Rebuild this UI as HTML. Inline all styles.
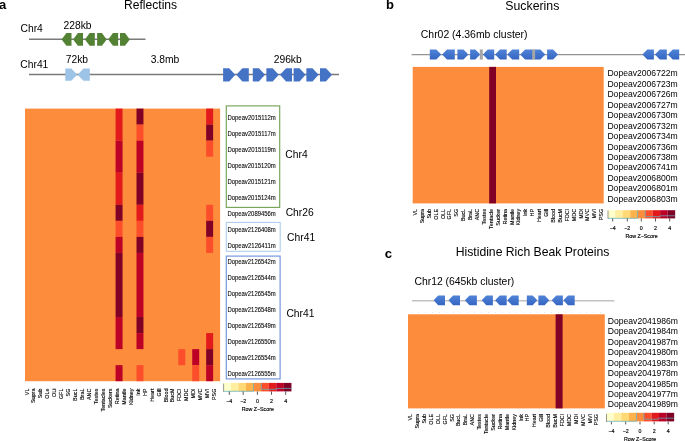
<!DOCTYPE html>
<html><head><meta charset="utf-8"><style>html,body{margin:0;padding:0;background:#fff;width:685px;height:441px;overflow:hidden}svg{display:block;will-change:transform}</style></head><body>
<svg width="685" height="441" viewBox="0 0 685 441" font-family="'Liberation Sans', sans-serif">
<defs><linearGradient id="gb" x1="0" y1="0" x2="0" y2="1"><stop offset="0" stop-color="#5184d8"/><stop offset="1" stop-color="#3565c2"/></linearGradient></defs>
<rect width="685" height="441" fill="#fff"/>
<text x="-0.9" y="8.9" font-size="13" text-anchor="start" font-weight="bold" fill="#000" >a</text>
<text x="124" y="9.3" font-size="12.1" text-anchor="start" fill="#000" >Reflectins</text>
<text x="20.5" y="32" font-size="10.3" text-anchor="start" fill="#000" >Chr4</text>
<text x="63.5" y="28.6" font-size="10.3" text-anchor="start" fill="#000" >228kb</text>
<line x1="29" y1="39.3" x2="145.5" y2="39.3" stroke="#7a7a7a" stroke-width="1.5"/>
<polygon points="61.6,39.4 66.4,33 71.5,33 71.5,45.8 66.4,45.8" fill="#548235" />
<polygon points="73.1,39.4 77.9,33 83,33 83,45.8 77.9,45.8" fill="#548235" />
<polygon points="84.9,39.4 89.7,33 94.8,33 94.8,45.8 89.7,45.8" fill="#548235" />
<polygon points="97.1,33 101.9,33 106.7,39.4 101.9,45.8 97.1,45.8" fill="#548235" />
<polygon points="108.2,39.4 113,33 118.1,33 118.1,45.8 113,45.8" fill="#548235" />
<polygon points="120,33 125,33 129.8,39.4 125,45.8 120,45.8" fill="#548235" />
<text x="20.3" y="67.6" font-size="10.3" text-anchor="start" fill="#000" >Chr41</text>
<text x="65.7" y="63" font-size="10.3" text-anchor="start" fill="#000" >72kb</text>
<text x="150.7" y="63" font-size="10.3" text-anchor="start" fill="#000" >3.8mb</text>
<text x="273.7" y="62.6" font-size="10.3" text-anchor="start" fill="#000" >296kb</text>
<line x1="29" y1="74.6" x2="339" y2="74.6" stroke="#7a7a7a" stroke-width="1.5"/>
<polygon points="65.3,68.6 71.3,68.6 77.2,74.7 71.3,80.8 65.3,80.8" fill="#9DC3E6" />
<polygon points="77.6,74.7 83.5,68.6 89.8,68.6 89.8,80.8 83.5,80.8" fill="#9DC3E6" />
<polygon points="223.1,68.2 229.2,68.2 235.3,74.8 229.2,81.4 223.1,81.4" fill="#4472C4" />
<polygon points="236.3,74.8 242.4,68.2 248.8,68.2 248.8,81.4 242.4,81.4" fill="#4472C4" />
<polygon points="252.8,68.2 258.9,68.2 265,74.8 258.9,81.4 252.8,81.4" fill="#4472C4" />
<polygon points="266.4,68.2 272.7,68.2 278.8,74.8 272.7,81.4 266.4,81.4" fill="#4472C4" />
<polygon points="280,74.8 286.1,68.2 292,68.2 292,81.4 286.1,81.4" fill="#4472C4" />
<polygon points="293.6,68.2 299.5,68.2 305.6,74.8 299.5,81.4 293.6,81.4" fill="#4472C4" />
<polygon points="306.4,68.2 312.5,68.2 318.6,74.8 312.5,81.4 306.4,81.4" fill="#4472C4" />
<polygon points="320,68.2 325.9,68.2 332,74.8 325.9,81.4 320,81.4" fill="#4472C4" />
<rect x="25" y="108.6" width="195.1" height="272.6" fill="#FD8D3C"/>
<rect x="115.58" y="108.6" width="6.97" height="32.07" fill="#E31A1C"/>
<rect x="115.58" y="140.67" width="6.97" height="32.07" fill="#BD0026"/>
<rect x="115.58" y="172.74" width="6.97" height="32.07" fill="#E31A1C"/>
<rect x="115.58" y="204.81" width="6.97" height="16.04" fill="#800026"/>
<rect x="115.58" y="220.85" width="6.97" height="16.04" fill="#FC4E2A"/>
<rect x="115.58" y="236.88" width="6.97" height="16.04" fill="#BD0026"/>
<rect x="115.58" y="252.92" width="6.97" height="64.14" fill="#800026"/>
<rect x="115.58" y="317.06" width="6.97" height="32.07" fill="#BD0026"/>
<rect x="115.58" y="365.16" width="6.97" height="16.04" fill="#BD0026"/>
<rect x="136.49" y="108.6" width="6.97" height="16.04" fill="#800026"/>
<rect x="136.49" y="124.64" width="6.97" height="16.04" fill="#FC4E2A"/>
<rect x="136.49" y="140.67" width="6.97" height="32.07" fill="#BD0026"/>
<rect x="136.49" y="172.74" width="6.97" height="32.07" fill="#800026"/>
<rect x="136.49" y="204.81" width="6.97" height="16.04" fill="#E31A1C"/>
<rect x="136.49" y="220.85" width="6.97" height="16.04" fill="#FC4E2A"/>
<rect x="136.49" y="236.88" width="6.97" height="16.04" fill="#800026"/>
<rect x="136.49" y="252.92" width="6.97" height="64.14" fill="#BD0026"/>
<rect x="136.49" y="317.06" width="6.97" height="16.04" fill="#800026"/>
<rect x="136.49" y="333.09" width="6.97" height="16.04" fill="#BD0026"/>
<rect x="136.49" y="365.16" width="6.97" height="16.04" fill="#FC4E2A"/>
<rect x="178.29" y="349.13" width="6.97" height="16.04" fill="#FC4E2A"/>
<rect x="192.23" y="349.13" width="6.97" height="16.04" fill="#BD0026"/>
<rect x="192.23" y="365.16" width="6.97" height="16.04" fill="#FC4E2A"/>
<rect x="206.16" y="108.6" width="6.97" height="16.04" fill="#E31A1C"/>
<rect x="206.16" y="124.64" width="6.97" height="16.04" fill="#800026"/>
<rect x="206.16" y="140.67" width="6.97" height="16.04" fill="#FC4E2A"/>
<rect x="206.16" y="204.81" width="6.97" height="16.04" fill="#FC4E2A"/>
<rect x="206.16" y="220.85" width="6.97" height="16.04" fill="#800026"/>
<rect x="206.16" y="236.88" width="6.97" height="16.04" fill="#FC4E2A"/>
<rect x="206.16" y="333.09" width="6.97" height="16.04" fill="#E31A1C"/>
<rect x="206.16" y="349.13" width="6.97" height="16.04" fill="#800026"/>
<rect x="206.16" y="365.16" width="6.97" height="16.04" fill="#BD0026"/>
<text transform="translate(28.5,388.6) rotate(-90)" font-size="5.9" text-anchor="end" fill="#000" stroke="#000" stroke-width="0.12" textLength="6.61" lengthAdjust="spacingAndGlyphs">VL</text>
<text transform="translate(35.45,388.6) rotate(-90)" font-size="5.9" text-anchor="end" fill="#000" stroke="#000" stroke-width="0.12" textLength="14.41" lengthAdjust="spacingAndGlyphs">Supra</text>
<text transform="translate(42.4,388.6) rotate(-90)" font-size="5.9" text-anchor="end" fill="#000" stroke="#000" stroke-width="0.12" textLength="9.61" lengthAdjust="spacingAndGlyphs">Sub</text>
<text transform="translate(49.35,388.6) rotate(-90)" font-size="5.9" text-anchor="end" fill="#000" stroke="#000" stroke-width="0.12" textLength="10.21" lengthAdjust="spacingAndGlyphs">OLe</text>
<text transform="translate(56.3,388.6) rotate(-90)" font-size="5.9" text-anchor="end" fill="#000" stroke="#000" stroke-width="0.12" textLength="8.4" lengthAdjust="spacingAndGlyphs">OLi</text>
<text transform="translate(63.25,388.6) rotate(-90)" font-size="5.9" text-anchor="end" fill="#000" stroke="#000" stroke-width="0.12" textLength="10.5" lengthAdjust="spacingAndGlyphs">GFL</text>
<text transform="translate(70.2,388.6) rotate(-90)" font-size="5.9" text-anchor="end" fill="#000" stroke="#000" stroke-width="0.12" textLength="7.8" lengthAdjust="spacingAndGlyphs">SG</text>
<text transform="translate(77.15,388.6) rotate(-90)" font-size="5.9" text-anchor="end" fill="#000" stroke="#000" stroke-width="0.12" textLength="12.31" lengthAdjust="spacingAndGlyphs">BucL</text>
<text transform="translate(84.1,388.6) rotate(-90)" font-size="5.9" text-anchor="end" fill="#000" stroke="#000" stroke-width="0.12" textLength="11.41" lengthAdjust="spacingAndGlyphs">BraL</text>
<text transform="translate(91.05,388.6) rotate(-90)" font-size="5.9" text-anchor="end" fill="#000" stroke="#000" stroke-width="0.12" textLength="11.4" lengthAdjust="spacingAndGlyphs">ANC</text>
<text transform="translate(98,388.6) rotate(-90)" font-size="5.9" text-anchor="end" fill="#000" stroke="#000" stroke-width="0.12" textLength="15.61" lengthAdjust="spacingAndGlyphs">Testes</text>
<text transform="translate(104.95,388.6) rotate(-90)" font-size="5.9" text-anchor="end" fill="#000" stroke="#000" stroke-width="0.12" textLength="22.81" lengthAdjust="spacingAndGlyphs">Tentacles</text>
<text transform="translate(111.9,388.6) rotate(-90)" font-size="5.9" text-anchor="end" fill="#000" stroke="#000" stroke-width="0.12" textLength="19.51" lengthAdjust="spacingAndGlyphs">Suckers</text>
<text transform="translate(118.85,388.6) rotate(-90)" font-size="5.9" text-anchor="end" fill="#000" stroke="#000" stroke-width="0.12" textLength="15.61" lengthAdjust="spacingAndGlyphs">Retina</text>
<text transform="translate(125.8,388.6) rotate(-90)" font-size="5.9" text-anchor="end" fill="#000" stroke="#000" stroke-width="0.12" textLength="16.21" lengthAdjust="spacingAndGlyphs">Mantle</text>
<text transform="translate(132.75,388.6) rotate(-90)" font-size="5.9" text-anchor="end" fill="#000" stroke="#000" stroke-width="0.12" textLength="16.51" lengthAdjust="spacingAndGlyphs">Kidney</text>
<text transform="translate(139.7,388.6) rotate(-90)" font-size="5.9" text-anchor="end" fill="#000" stroke="#000" stroke-width="0.12" textLength="7.2" lengthAdjust="spacingAndGlyphs">Ink</text>
<text transform="translate(146.65,388.6) rotate(-90)" font-size="5.9" text-anchor="end" fill="#000" stroke="#000" stroke-width="0.12" textLength="7.5" lengthAdjust="spacingAndGlyphs">HP</text>
<text transform="translate(153.6,388.6) rotate(-90)" font-size="5.9" text-anchor="end" fill="#000" stroke="#000" stroke-width="0.12" textLength="13.2" lengthAdjust="spacingAndGlyphs">Heart</text>
<text transform="translate(160.55,388.6) rotate(-90)" font-size="5.9" text-anchor="end" fill="#000" stroke="#000" stroke-width="0.12" textLength="7.8" lengthAdjust="spacingAndGlyphs">Gill</text>
<text transform="translate(167.5,388.6) rotate(-90)" font-size="5.9" text-anchor="end" fill="#000" stroke="#000" stroke-width="0.12" textLength="13.81" lengthAdjust="spacingAndGlyphs">Blood</text>
<text transform="translate(174.45,388.6) rotate(-90)" font-size="5.9" text-anchor="end" fill="#000" stroke="#000" stroke-width="0.12" textLength="13.8" lengthAdjust="spacingAndGlyphs">BucM</text>
<text transform="translate(181.4,388.6) rotate(-90)" font-size="5.9" text-anchor="end" fill="#000" stroke="#000" stroke-width="0.12" textLength="12.6" lengthAdjust="spacingAndGlyphs">FDCI</text>
<text transform="translate(188.35,388.6) rotate(-90)" font-size="5.9" text-anchor="end" fill="#000" stroke="#000" stroke-width="0.12" textLength="12.3" lengthAdjust="spacingAndGlyphs">MDC</text>
<text transform="translate(195.3,388.6) rotate(-90)" font-size="5.9" text-anchor="end" fill="#000" stroke="#000" stroke-width="0.12" textLength="9.9" lengthAdjust="spacingAndGlyphs">MDI</text>
<text transform="translate(202.25,388.6) rotate(-90)" font-size="5.9" text-anchor="end" fill="#000" stroke="#000" stroke-width="0.12" textLength="12" lengthAdjust="spacingAndGlyphs">MVC</text>
<text transform="translate(209.2,388.6) rotate(-90)" font-size="5.9" text-anchor="end" fill="#000" stroke="#000" stroke-width="0.12" textLength="9.6" lengthAdjust="spacingAndGlyphs">MVI</text>
<text transform="translate(216.15,388.6) rotate(-90)" font-size="5.9" text-anchor="end" fill="#000" stroke="#000" stroke-width="0.12" textLength="11.4" lengthAdjust="spacingAndGlyphs">PSG</text>
<text x="227.4" y="119.52" font-size="6.4" text-anchor="start" fill="#000" stroke="#000" stroke-width="0.08" textLength="48.4" lengthAdjust="spacingAndGlyphs">Dopeav2015112m</text>
<text x="227.4" y="135.55" font-size="6.4" text-anchor="start" fill="#000" stroke="#000" stroke-width="0.08" textLength="48.4" lengthAdjust="spacingAndGlyphs">Dopeav2015117m</text>
<text x="227.4" y="151.59" font-size="6.4" text-anchor="start" fill="#000" stroke="#000" stroke-width="0.08" textLength="48.4" lengthAdjust="spacingAndGlyphs">Dopeav2015119m</text>
<text x="227.4" y="167.62" font-size="6.4" text-anchor="start" fill="#000" stroke="#000" stroke-width="0.08" textLength="48.4" lengthAdjust="spacingAndGlyphs">Dopeav2015120m</text>
<text x="227.4" y="183.66" font-size="6.4" text-anchor="start" fill="#000" stroke="#000" stroke-width="0.08" textLength="48.4" lengthAdjust="spacingAndGlyphs">Dopeav2015121m</text>
<text x="227.4" y="199.69" font-size="6.4" text-anchor="start" fill="#000" stroke="#000" stroke-width="0.08" textLength="48.4" lengthAdjust="spacingAndGlyphs">Dopeav2015124m</text>
<text x="227.4" y="215.73" font-size="6.4" text-anchor="start" fill="#000" stroke="#000" stroke-width="0.08" textLength="48.4" lengthAdjust="spacingAndGlyphs">Dopeav2089456m</text>
<text x="227.4" y="231.76" font-size="6.4" text-anchor="start" fill="#000" stroke="#000" stroke-width="0.08" textLength="48.4" lengthAdjust="spacingAndGlyphs">Dopeav2126408m</text>
<text x="227.4" y="247.8" font-size="6.4" text-anchor="start" fill="#000" stroke="#000" stroke-width="0.08" textLength="48.4" lengthAdjust="spacingAndGlyphs">Dopeav2126411m</text>
<text x="227.4" y="263.84" font-size="6.4" text-anchor="start" fill="#000" stroke="#000" stroke-width="0.08" textLength="48.4" lengthAdjust="spacingAndGlyphs">Dopeav2126542m</text>
<text x="227.4" y="279.87" font-size="6.4" text-anchor="start" fill="#000" stroke="#000" stroke-width="0.08" textLength="48.4" lengthAdjust="spacingAndGlyphs">Dopeav2126544m</text>
<text x="227.4" y="295.91" font-size="6.4" text-anchor="start" fill="#000" stroke="#000" stroke-width="0.08" textLength="48.4" lengthAdjust="spacingAndGlyphs">Dopeav2126545m</text>
<text x="227.4" y="311.94" font-size="6.4" text-anchor="start" fill="#000" stroke="#000" stroke-width="0.08" textLength="48.4" lengthAdjust="spacingAndGlyphs">Dopeav2126548m</text>
<text x="227.4" y="327.98" font-size="6.4" text-anchor="start" fill="#000" stroke="#000" stroke-width="0.08" textLength="48.4" lengthAdjust="spacingAndGlyphs">Dopeav2126549m</text>
<text x="227.4" y="344.01" font-size="6.4" text-anchor="start" fill="#000" stroke="#000" stroke-width="0.08" textLength="48.4" lengthAdjust="spacingAndGlyphs">Dopeav2126550m</text>
<text x="227.4" y="360.05" font-size="6.4" text-anchor="start" fill="#000" stroke="#000" stroke-width="0.08" textLength="48.4" lengthAdjust="spacingAndGlyphs">Dopeav2126554m</text>
<text x="227.4" y="376.08" font-size="6.4" text-anchor="start" fill="#000" stroke="#000" stroke-width="0.08" textLength="48.4" lengthAdjust="spacingAndGlyphs">Dopeav2126555m</text>
<rect x="226.3" y="105.9" width="53.4" height="101.5" fill="none" stroke="#75a45a" stroke-width="1.15"/>
<rect x="226.3" y="222.4" width="53.9" height="28.9" fill="none" stroke="#b0cdee" stroke-width="1.1"/>
<rect x="226.3" y="256.1" width="53.8" height="122.8" fill="none" stroke="#7797dc" stroke-width="1.2"/>
<text x="285.3" y="158.3" font-size="10.3" text-anchor="start" fill="#000" >Chr4</text>
<text x="285.7" y="215.9" font-size="10.3" text-anchor="start" fill="#000" >Chr26</text>
<text x="287.1" y="240.8" font-size="10.3" text-anchor="start" fill="#000" >Chr41</text>
<text x="286.4" y="316.8" font-size="10.3" text-anchor="start" fill="#000" >Chr41</text>
<rect x="223.3" y="382.9" width="7.62" height="8.5" fill="#FFFFCC"/>
<rect x="230.87" y="382.9" width="7.62" height="8.5" fill="#FFEDA0"/>
<rect x="238.43" y="382.9" width="7.62" height="8.5" fill="#FED976"/>
<rect x="246" y="382.9" width="7.62" height="8.5" fill="#FEB24C"/>
<rect x="253.57" y="382.9" width="7.62" height="8.5" fill="#FD8D3C"/>
<rect x="261.13" y="382.9" width="7.62" height="8.5" fill="#FC4E2A"/>
<rect x="268.7" y="382.9" width="7.62" height="8.5" fill="#E31A1C"/>
<rect x="276.27" y="382.9" width="7.62" height="8.5" fill="#BD0026"/>
<rect x="283.83" y="382.9" width="7.62" height="8.5" fill="#800026"/>
<polyline points="223.3,391.3 253.5,391.3 253.5,383" fill="none" stroke="#62adbb" stroke-width="0.75"/>
<polyline points="261.3,383 261.3,389.3 276.4,389.3 276.4,388.4 291.4,388.4" fill="none" stroke="#62adbb" stroke-width="0.75"/>
<text x="386" y="8.7" font-size="13" text-anchor="start" font-weight="bold" fill="#000" >b</text>
<text x="505.3" y="9.8" font-size="12.3" text-anchor="start" fill="#000" >Suckerins</text>
<text x="420.8" y="37.8" font-size="10.45" text-anchor="start" fill="#000" >Chr02 (4.36mb cluster)</text>
<line x1="411.6" y1="54.5" x2="685" y2="54.5" stroke="#939393" stroke-width="1.25"/>
<polygon points="429.8,49.4 436.3,49.4 441.2,54.5 436.3,59.6 429.8,59.6" fill="url(#gb)" />
<polygon points="442.1,54.5 447,49.4 454.8,49.4 454.8,59.6 447,59.6" fill="url(#gb)" />
<polygon points="457.4,49.4 463.5,49.4 468.4,54.5 463.5,59.6 457.4,59.6" fill="url(#gb)" />
<polygon points="470.1,49.4 475.3,49.4 480.2,54.5 475.3,59.6 470.1,59.6" fill="url(#gb)" />
<polygon points="482.8,54.5 487.7,49.4 494.2,49.4 494.2,59.6 487.7,59.6" fill="url(#gb)" />
<polygon points="495.1,54.5 500,49.4 506.7,49.4 506.7,59.6 500,59.6" fill="url(#gb)" />
<polygon points="507.3,54.5 512.2,49.4 519.2,49.4 519.2,59.6 512.2,59.6" fill="url(#gb)" />
<polygon points="520.2,54.5 525.1,49.4 533,49.4 533,59.6 525.1,59.6" fill="url(#gb)" />
<polygon points="534.5,49.4 540.4,49.4 545.3,54.5 540.4,59.6 534.5,59.6" fill="url(#gb)" />
<polygon points="547.1,49.4 553.1,49.4 558,54.5 553.1,59.6 547.1,59.6" fill="url(#gb)" />
<polygon points="642.4,54.5 647.3,49.4 653.9,49.4 653.9,59.6 647.3,59.6" fill="url(#gb)" />
<polygon points="654.9,54.5 659.8,49.4 666.8,49.4 666.8,59.6 659.8,59.6" fill="url(#gb)" />
<polygon points="667.8,54.5 672.7,49.4 679.2,49.4 679.2,59.6 672.7,59.6" fill="url(#gb)" />
<rect x="479.8" y="49.4" width="3" height="10.200000000000003" fill="#a6a6a6"/>
<rect x="532.2" y="49.4" width="2.9" height="10.200000000000003" fill="#a6a6a6"/>
<rect x="412.7" y="66.9" width="191" height="136.5" fill="#FD8D3C"/>
<rect x="489.2" y="66.9" width="6.8" height="136.5" fill="#800026"/>
<text transform="translate(416.9,208.9) rotate(-90)" font-size="5.9" text-anchor="end" fill="#000" stroke="#000" stroke-width="0.12" textLength="6.61" lengthAdjust="spacingAndGlyphs">VL</text>
<text transform="translate(423.8,208.9) rotate(-90)" font-size="5.9" text-anchor="end" fill="#000" stroke="#000" stroke-width="0.12" textLength="14.41" lengthAdjust="spacingAndGlyphs">Supra</text>
<text transform="translate(430.7,208.9) rotate(-90)" font-size="5.9" text-anchor="end" fill="#000" stroke="#000" stroke-width="0.12" textLength="9.61" lengthAdjust="spacingAndGlyphs">Sub</text>
<text transform="translate(437.6,208.9) rotate(-90)" font-size="5.9" text-anchor="end" fill="#000" stroke="#000" stroke-width="0.12" textLength="10.81" lengthAdjust="spacingAndGlyphs">OLE</text>
<text transform="translate(444.5,208.9) rotate(-90)" font-size="5.9" text-anchor="end" fill="#000" stroke="#000" stroke-width="0.12" textLength="10.21" lengthAdjust="spacingAndGlyphs">OLL</text>
<text transform="translate(451.4,208.9) rotate(-90)" font-size="5.9" text-anchor="end" fill="#000" stroke="#000" stroke-width="0.12" textLength="10.5" lengthAdjust="spacingAndGlyphs">GFL</text>
<text transform="translate(458.3,208.9) rotate(-90)" font-size="5.9" text-anchor="end" fill="#000" stroke="#000" stroke-width="0.12" textLength="7.8" lengthAdjust="spacingAndGlyphs">SG</text>
<text transform="translate(465.2,208.9) rotate(-90)" font-size="5.9" text-anchor="end" fill="#000" stroke="#000" stroke-width="0.12" textLength="12.31" lengthAdjust="spacingAndGlyphs">BucL</text>
<text transform="translate(472.1,208.9) rotate(-90)" font-size="5.9" text-anchor="end" fill="#000" stroke="#000" stroke-width="0.12" textLength="11.41" lengthAdjust="spacingAndGlyphs">BraL</text>
<text transform="translate(479,208.9) rotate(-90)" font-size="5.9" text-anchor="end" fill="#000" stroke="#000" stroke-width="0.12" textLength="11.4" lengthAdjust="spacingAndGlyphs">ANC</text>
<text transform="translate(485.9,208.9) rotate(-90)" font-size="5.9" text-anchor="end" fill="#000" stroke="#000" stroke-width="0.12" textLength="15.61" lengthAdjust="spacingAndGlyphs">Testes</text>
<text transform="translate(492.8,208.9) rotate(-90)" font-size="5.9" text-anchor="end" fill="#000" stroke="#000" stroke-width="0.12" textLength="20.11" lengthAdjust="spacingAndGlyphs">Tentacle</text>
<text transform="translate(499.7,208.9) rotate(-90)" font-size="5.9" text-anchor="end" fill="#000" stroke="#000" stroke-width="0.12" textLength="16.81" lengthAdjust="spacingAndGlyphs">Sucker</text>
<text transform="translate(506.6,208.9) rotate(-90)" font-size="5.9" text-anchor="end" fill="#000" stroke="#000" stroke-width="0.12" textLength="15.61" lengthAdjust="spacingAndGlyphs">Retina</text>
<text transform="translate(513.5,208.9) rotate(-90)" font-size="5.9" text-anchor="end" fill="#000" stroke="#000" stroke-width="0.12" textLength="16.21" lengthAdjust="spacingAndGlyphs">Mantle</text>
<text transform="translate(520.4,208.9) rotate(-90)" font-size="5.9" text-anchor="end" fill="#000" stroke="#000" stroke-width="0.12" textLength="16.51" lengthAdjust="spacingAndGlyphs">Kidney</text>
<text transform="translate(527.3,208.9) rotate(-90)" font-size="5.9" text-anchor="end" fill="#000" stroke="#000" stroke-width="0.12" textLength="7.2" lengthAdjust="spacingAndGlyphs">Ink</text>
<text transform="translate(534.2,208.9) rotate(-90)" font-size="5.9" text-anchor="end" fill="#000" stroke="#000" stroke-width="0.12" textLength="7.5" lengthAdjust="spacingAndGlyphs">HP</text>
<text transform="translate(541.1,208.9) rotate(-90)" font-size="5.9" text-anchor="end" fill="#000" stroke="#000" stroke-width="0.12" textLength="13.2" lengthAdjust="spacingAndGlyphs">Heart</text>
<text transform="translate(548,208.9) rotate(-90)" font-size="5.9" text-anchor="end" fill="#000" stroke="#000" stroke-width="0.12" textLength="7.8" lengthAdjust="spacingAndGlyphs">Gill</text>
<text transform="translate(554.9,208.9) rotate(-90)" font-size="5.9" text-anchor="end" fill="#000" stroke="#000" stroke-width="0.12" textLength="13.81" lengthAdjust="spacingAndGlyphs">Blood</text>
<text transform="translate(561.8,208.9) rotate(-90)" font-size="5.9" text-anchor="end" fill="#000" stroke="#000" stroke-width="0.12" textLength="13.8" lengthAdjust="spacingAndGlyphs">BucM</text>
<text transform="translate(568.7,208.9) rotate(-90)" font-size="5.9" text-anchor="end" fill="#000" stroke="#000" stroke-width="0.12" textLength="12.6" lengthAdjust="spacingAndGlyphs">FDCI</text>
<text transform="translate(575.6,208.9) rotate(-90)" font-size="5.9" text-anchor="end" fill="#000" stroke="#000" stroke-width="0.12" textLength="12.3" lengthAdjust="spacingAndGlyphs">MDC</text>
<text transform="translate(582.5,208.9) rotate(-90)" font-size="5.9" text-anchor="end" fill="#000" stroke="#000" stroke-width="0.12" textLength="9.9" lengthAdjust="spacingAndGlyphs">MDI</text>
<text transform="translate(589.4,208.9) rotate(-90)" font-size="5.9" text-anchor="end" fill="#000" stroke="#000" stroke-width="0.12" textLength="12" lengthAdjust="spacingAndGlyphs">MVC</text>
<text transform="translate(596.3,208.9) rotate(-90)" font-size="5.9" text-anchor="end" fill="#000" stroke="#000" stroke-width="0.12" textLength="9.6" lengthAdjust="spacingAndGlyphs">MVI</text>
<text transform="translate(603.2,208.9) rotate(-90)" font-size="5.9" text-anchor="end" fill="#000" stroke="#000" stroke-width="0.12" textLength="11.4" lengthAdjust="spacingAndGlyphs">PSG</text>
<text x="607.4" y="76.3" font-size="8.6" text-anchor="start" fill="#000" >Dopeav2006722m</text>
<text x="607.4" y="86.76" font-size="8.6" text-anchor="start" fill="#000" >Dopeav2006723m</text>
<text x="607.4" y="97.22" font-size="8.6" text-anchor="start" fill="#000" >Dopeav2006726m</text>
<text x="607.4" y="107.68" font-size="8.6" text-anchor="start" fill="#000" >Dopeav2006727m</text>
<text x="607.4" y="118.14" font-size="8.6" text-anchor="start" fill="#000" >Dopeav2006730m</text>
<text x="607.4" y="128.6" font-size="8.6" text-anchor="start" fill="#000" >Dopeav2006732m</text>
<text x="607.4" y="139.06" font-size="8.6" text-anchor="start" fill="#000" >Dopeav2006734m</text>
<text x="607.4" y="149.52" font-size="8.6" text-anchor="start" fill="#000" >Dopeav2006736m</text>
<text x="607.4" y="159.98" font-size="8.6" text-anchor="start" fill="#000" >Dopeav2006738m</text>
<text x="607.4" y="170.44" font-size="8.6" text-anchor="start" fill="#000" >Dopeav2006741m</text>
<text x="607.4" y="180.9" font-size="8.6" text-anchor="start" fill="#000" >Dopeav2006800m</text>
<text x="607.4" y="191.36" font-size="8.6" text-anchor="start" fill="#000" >Dopeav2006801m</text>
<text x="607.4" y="201.82" font-size="8.6" text-anchor="start" fill="#000" >Dopeav2006803m</text>
<rect x="607.7" y="210.2" width="7.54" height="8.2" fill="#FFFFCC"/>
<rect x="615.19" y="210.2" width="7.54" height="8.2" fill="#FFEDA0"/>
<rect x="622.68" y="210.2" width="7.54" height="8.2" fill="#FED976"/>
<rect x="630.17" y="210.2" width="7.54" height="8.2" fill="#FEB24C"/>
<rect x="637.66" y="210.2" width="7.54" height="8.2" fill="#FD8D3C"/>
<rect x="645.14" y="210.2" width="7.54" height="8.2" fill="#FC4E2A"/>
<rect x="652.63" y="210.2" width="7.54" height="8.2" fill="#E31A1C"/>
<rect x="660.12" y="210.2" width="7.54" height="8.2" fill="#BD0026"/>
<rect x="667.61" y="210.2" width="7.54" height="8.2" fill="#800026"/>
<polyline points="607.7,218.3 637.6,218.3 637.6,210.2" fill="none" stroke="#62adbb" stroke-width="0.75"/>
<polyline points="645.2,210.2 645.2,216.6 660,216.6 660,215.8 675.1,215.8" fill="none" stroke="#62adbb" stroke-width="0.75"/>
<text x="384.8" y="258.3" font-size="13.2" text-anchor="start" font-weight="bold" fill="#000" >c</text>
<text x="455.7" y="256.4" font-size="12.2" text-anchor="start" fill="#000" >Histidine Rich Beak Proteins</text>
<text x="414.4" y="284.8" font-size="10.4" text-anchor="start" fill="#000" >Chr12 (645kb cluster)</text>
<line x1="412" y1="300.75" x2="614.4" y2="300.75" stroke="#c2c2c2" stroke-width="1.7"/>
<polygon points="433.6,300.3 438.2,295.4 445,295.4 445,305.2 438.2,305.2" fill="url(#gb)" />
<polygon points="448.5,300.3 453.1,295.4 460,295.4 460,305.2 453.1,305.2" fill="url(#gb)" />
<polygon points="464.9,300.3 469.5,295.4 476.9,295.4 476.9,305.2 469.5,305.2" fill="url(#gb)" />
<polygon points="481.7,300.3 486.3,295.4 492.9,295.4 492.9,305.2 486.3,305.2" fill="url(#gb)" />
<polygon points="495.1,300.3 499.7,295.4 506.7,295.4 506.7,305.2 499.7,305.2" fill="url(#gb)" />
<polygon points="507.3,300.3 511.9,295.4 518.7,295.4 518.7,305.2 511.9,305.2" fill="url(#gb)" />
<polygon points="526.8,295.4 532.7,295.4 537.3,300.3 532.7,305.2 526.8,305.2" fill="url(#gb)" />
<polygon points="538.4,295.4 544.7,295.4 549.3,300.3 544.7,305.2 538.4,305.2" fill="url(#gb)" />
<polygon points="551.7,300.3 556.3,295.4 562.9,295.4 562.9,305.2 556.3,305.2" fill="url(#gb)" />
<polygon points="563.4,300.3 568,295.4 574.7,295.4 574.7,305.2 568,305.2" fill="url(#gb)" />
<rect x="411.3" y="312" width="0.7" height="0.7" fill="#d0d0d0"/>
<rect x="418.3" y="312" width="0.7" height="0.7" fill="#d0d0d0"/>
<rect x="425.3" y="312" width="0.7" height="0.7" fill="#d0d0d0"/>
<rect x="432.3" y="312" width="0.7" height="0.7" fill="#d0d0d0"/>
<rect x="439.3" y="312" width="0.7" height="0.7" fill="#d0d0d0"/>
<rect x="446.3" y="312" width="0.7" height="0.7" fill="#d0d0d0"/>
<rect x="453.3" y="312" width="0.7" height="0.7" fill="#d0d0d0"/>
<rect x="460.3" y="312" width="0.7" height="0.7" fill="#d0d0d0"/>
<rect x="467.3" y="312" width="0.7" height="0.7" fill="#d0d0d0"/>
<rect x="474.3" y="312" width="0.7" height="0.7" fill="#d0d0d0"/>
<rect x="481.3" y="312" width="0.7" height="0.7" fill="#d0d0d0"/>
<rect x="488.3" y="312" width="0.7" height="0.7" fill="#d0d0d0"/>
<rect x="495.3" y="312" width="0.7" height="0.7" fill="#d0d0d0"/>
<rect x="502.3" y="312" width="0.7" height="0.7" fill="#d0d0d0"/>
<rect x="509.3" y="312" width="0.7" height="0.7" fill="#d0d0d0"/>
<rect x="516.3" y="312" width="0.7" height="0.7" fill="#d0d0d0"/>
<rect x="523.3" y="312" width="0.7" height="0.7" fill="#d0d0d0"/>
<rect x="530.3" y="312" width="0.7" height="0.7" fill="#d0d0d0"/>
<rect x="537.3" y="312" width="0.7" height="0.7" fill="#d0d0d0"/>
<rect x="544.3" y="312" width="0.7" height="0.7" fill="#d0d0d0"/>
<rect x="551.3" y="312" width="0.7" height="0.7" fill="#d0d0d0"/>
<rect x="558.3" y="312" width="0.7" height="0.7" fill="#d0d0d0"/>
<rect x="565.3" y="312" width="0.7" height="0.7" fill="#d0d0d0"/>
<rect x="572.3" y="312" width="0.7" height="0.7" fill="#d0d0d0"/>
<rect x="579.3" y="312" width="0.7" height="0.7" fill="#d0d0d0"/>
<rect x="586.3" y="312" width="0.7" height="0.7" fill="#d0d0d0"/>
<rect x="593.3" y="312" width="0.7" height="0.7" fill="#d0d0d0"/>
<rect x="600.3" y="312" width="0.7" height="0.7" fill="#d0d0d0"/>
<rect x="408" y="314.3" width="196.8" height="94.1" fill="#FD8D3C"/>
<rect x="555.6" y="314.3" width="7.03" height="94.1" fill="#800026"/>
<text transform="translate(412.1,414) rotate(-90)" font-size="5.9" text-anchor="end" fill="#000" stroke="#000" stroke-width="0.12" textLength="6.61" lengthAdjust="spacingAndGlyphs">VL</text>
<text transform="translate(419,414) rotate(-90)" font-size="5.9" text-anchor="end" fill="#000" stroke="#000" stroke-width="0.12" textLength="14.41" lengthAdjust="spacingAndGlyphs">Supra</text>
<text transform="translate(425.9,414) rotate(-90)" font-size="5.9" text-anchor="end" fill="#000" stroke="#000" stroke-width="0.12" textLength="9.61" lengthAdjust="spacingAndGlyphs">Sub</text>
<text transform="translate(432.8,414) rotate(-90)" font-size="5.9" text-anchor="end" fill="#000" stroke="#000" stroke-width="0.12" textLength="10.81" lengthAdjust="spacingAndGlyphs">OLE</text>
<text transform="translate(439.7,414) rotate(-90)" font-size="5.9" text-anchor="end" fill="#000" stroke="#000" stroke-width="0.12" textLength="10.21" lengthAdjust="spacingAndGlyphs">OLL</text>
<text transform="translate(446.6,414) rotate(-90)" font-size="5.9" text-anchor="end" fill="#000" stroke="#000" stroke-width="0.12" textLength="10.5" lengthAdjust="spacingAndGlyphs">GFL</text>
<text transform="translate(453.5,414) rotate(-90)" font-size="5.9" text-anchor="end" fill="#000" stroke="#000" stroke-width="0.12" textLength="7.8" lengthAdjust="spacingAndGlyphs">SG</text>
<text transform="translate(460.4,414) rotate(-90)" font-size="5.9" text-anchor="end" fill="#000" stroke="#000" stroke-width="0.12" textLength="12.31" lengthAdjust="spacingAndGlyphs">BucL</text>
<text transform="translate(467.3,414) rotate(-90)" font-size="5.9" text-anchor="end" fill="#000" stroke="#000" stroke-width="0.12" textLength="11.41" lengthAdjust="spacingAndGlyphs">BraL</text>
<text transform="translate(474.2,414) rotate(-90)" font-size="5.9" text-anchor="end" fill="#000" stroke="#000" stroke-width="0.12" textLength="11.4" lengthAdjust="spacingAndGlyphs">ANC</text>
<text transform="translate(481.1,414) rotate(-90)" font-size="5.9" text-anchor="end" fill="#000" stroke="#000" stroke-width="0.12" textLength="15.61" lengthAdjust="spacingAndGlyphs">Testes</text>
<text transform="translate(488,414) rotate(-90)" font-size="5.9" text-anchor="end" fill="#000" stroke="#000" stroke-width="0.12" textLength="20.11" lengthAdjust="spacingAndGlyphs">Tentacle</text>
<text transform="translate(494.9,414) rotate(-90)" font-size="5.9" text-anchor="end" fill="#000" stroke="#000" stroke-width="0.12" textLength="16.81" lengthAdjust="spacingAndGlyphs">Sucker</text>
<text transform="translate(501.8,414) rotate(-90)" font-size="5.9" text-anchor="end" fill="#000" stroke="#000" stroke-width="0.12" textLength="15.61" lengthAdjust="spacingAndGlyphs">Retina</text>
<text transform="translate(508.7,414) rotate(-90)" font-size="5.9" text-anchor="end" fill="#000" stroke="#000" stroke-width="0.12" textLength="16.21" lengthAdjust="spacingAndGlyphs">Mantle</text>
<text transform="translate(515.6,414) rotate(-90)" font-size="5.9" text-anchor="end" fill="#000" stroke="#000" stroke-width="0.12" textLength="16.51" lengthAdjust="spacingAndGlyphs">Kidney</text>
<text transform="translate(522.5,414) rotate(-90)" font-size="5.9" text-anchor="end" fill="#000" stroke="#000" stroke-width="0.12" textLength="7.2" lengthAdjust="spacingAndGlyphs">Ink</text>
<text transform="translate(529.4,414) rotate(-90)" font-size="5.9" text-anchor="end" fill="#000" stroke="#000" stroke-width="0.12" textLength="7.5" lengthAdjust="spacingAndGlyphs">HP</text>
<text transform="translate(536.3,414) rotate(-90)" font-size="5.9" text-anchor="end" fill="#000" stroke="#000" stroke-width="0.12" textLength="13.2" lengthAdjust="spacingAndGlyphs">Heart</text>
<text transform="translate(543.2,414) rotate(-90)" font-size="5.9" text-anchor="end" fill="#000" stroke="#000" stroke-width="0.12" textLength="7.8" lengthAdjust="spacingAndGlyphs">Gill</text>
<text transform="translate(550.1,414) rotate(-90)" font-size="5.9" text-anchor="end" fill="#000" stroke="#000" stroke-width="0.12" textLength="13.81" lengthAdjust="spacingAndGlyphs">Blood</text>
<text transform="translate(557,414) rotate(-90)" font-size="5.9" text-anchor="end" fill="#000" stroke="#000" stroke-width="0.12" textLength="13.8" lengthAdjust="spacingAndGlyphs">BucM</text>
<text transform="translate(563.9,414) rotate(-90)" font-size="5.9" text-anchor="end" fill="#000" stroke="#000" stroke-width="0.12" textLength="12.6" lengthAdjust="spacingAndGlyphs">FDCI</text>
<text transform="translate(570.8,414) rotate(-90)" font-size="5.9" text-anchor="end" fill="#000" stroke="#000" stroke-width="0.12" textLength="12.3" lengthAdjust="spacingAndGlyphs">MDC</text>
<text transform="translate(577.7,414) rotate(-90)" font-size="5.9" text-anchor="end" fill="#000" stroke="#000" stroke-width="0.12" textLength="9.9" lengthAdjust="spacingAndGlyphs">MDI</text>
<text transform="translate(584.6,414) rotate(-90)" font-size="5.9" text-anchor="end" fill="#000" stroke="#000" stroke-width="0.12" textLength="12" lengthAdjust="spacingAndGlyphs">MVC</text>
<text transform="translate(591.5,414) rotate(-90)" font-size="5.9" text-anchor="end" fill="#000" stroke="#000" stroke-width="0.12" textLength="9.6" lengthAdjust="spacingAndGlyphs">MVI</text>
<text transform="translate(598.4,414) rotate(-90)" font-size="5.9" text-anchor="end" fill="#000" stroke="#000" stroke-width="0.12" textLength="11.4" lengthAdjust="spacingAndGlyphs">PSG</text>
<text x="607.8" y="323.83" font-size="8.6" text-anchor="start" fill="#000" >Dopeav2041986m</text>
<text x="607.8" y="334.28" font-size="8.6" text-anchor="start" fill="#000" >Dopeav2041984m</text>
<text x="607.8" y="344.74" font-size="8.6" text-anchor="start" fill="#000" >Dopeav2041987m</text>
<text x="607.8" y="355.19" font-size="8.6" text-anchor="start" fill="#000" >Dopeav2041980m</text>
<text x="607.8" y="365.65" font-size="8.6" text-anchor="start" fill="#000" >Dopeav2041983m</text>
<text x="607.8" y="376.11" font-size="8.6" text-anchor="start" fill="#000" >Dopeav2041978m</text>
<text x="607.8" y="386.56" font-size="8.6" text-anchor="start" fill="#000" >Dopeav2041985m</text>
<text x="607.8" y="397.02" font-size="8.6" text-anchor="start" fill="#000" >Dopeav2041977m</text>
<text x="607.8" y="407.47" font-size="8.6" text-anchor="start" fill="#000" >Dopeav2041989m</text>
<rect x="606.2" y="412.8" width="7.59" height="8.6" fill="#FFFFCC"/>
<rect x="613.74" y="412.8" width="7.59" height="8.6" fill="#FFEDA0"/>
<rect x="621.29" y="412.8" width="7.59" height="8.6" fill="#FED976"/>
<rect x="628.83" y="412.8" width="7.59" height="8.6" fill="#FEB24C"/>
<rect x="636.38" y="412.8" width="7.59" height="8.6" fill="#FD8D3C"/>
<rect x="643.92" y="412.8" width="7.59" height="8.6" fill="#FC4E2A"/>
<rect x="651.47" y="412.8" width="7.59" height="8.6" fill="#E31A1C"/>
<rect x="659.01" y="412.8" width="7.59" height="8.6" fill="#BD0026"/>
<rect x="666.56" y="412.8" width="7.59" height="8.6" fill="#800026"/>
<polyline points="606.2,421.3 636.4,421.3 636.4,412.8" fill="none" stroke="#62adbb" stroke-width="0.75"/>
<polyline points="643.9,412.8 643.9,419.2 658.3,419.2 658.3,418.2 674.1,418.2" fill="none" stroke="#62adbb" stroke-width="0.75"/>
<line x1="223.6" y1="383.5" x2="223.6" y2="391.5" stroke="#555" stroke-width="0.6"/>
<line x1="229.3" y1="391.5" x2="229.3" y2="394.8" stroke="#222" stroke-width="0.75"/>
<text x="229.3" y="402.6" font-size="5.3" text-anchor="middle" fill="#000" stroke="#000" stroke-width="0.15">&#8722;4</text>
<line x1="243.2" y1="391.5" x2="243.2" y2="394.8" stroke="#222" stroke-width="0.75"/>
<text x="243.2" y="402.6" font-size="5.3" text-anchor="middle" fill="#000" stroke="#000" stroke-width="0.15">&#8722;2</text>
<line x1="257.4" y1="391.5" x2="257.4" y2="394.8" stroke="#222" stroke-width="0.75"/>
<text x="257.4" y="402.6" font-size="5.3" text-anchor="middle" fill="#000" stroke="#000" stroke-width="0.15">0</text>
<line x1="271.5" y1="391.5" x2="271.5" y2="394.8" stroke="#222" stroke-width="0.75"/>
<text x="271.5" y="402.6" font-size="5.3" text-anchor="middle" fill="#000" stroke="#000" stroke-width="0.15">2</text>
<line x1="285.7" y1="391.5" x2="285.7" y2="394.8" stroke="#222" stroke-width="0.75"/>
<text x="285.7" y="402.6" font-size="5.3" text-anchor="middle" fill="#000" stroke="#000" stroke-width="0.15">4</text>
<text x="257.8" y="410.8" font-size="5.3" text-anchor="middle" fill="#000" stroke="#000" stroke-width="0.15">Row Z&#8722;Score</text>
<line x1="608" y1="210.4" x2="608" y2="218.4" stroke="#555" stroke-width="0.6"/>
<line x1="612.7" y1="218.4" x2="612.7" y2="221.5" stroke="#222" stroke-width="0.75"/>
<text x="612.7" y="229.8" font-size="5.3" text-anchor="middle" fill="#000" stroke="#000" stroke-width="0.15">&#8722;4</text>
<line x1="627.3" y1="218.4" x2="627.3" y2="221.5" stroke="#222" stroke-width="0.75"/>
<text x="627.3" y="229.8" font-size="5.3" text-anchor="middle" fill="#000" stroke="#000" stroke-width="0.15">&#8722;2</text>
<line x1="641.3" y1="218.4" x2="641.3" y2="221.5" stroke="#222" stroke-width="0.75"/>
<text x="641.3" y="229.8" font-size="5.3" text-anchor="middle" fill="#000" stroke="#000" stroke-width="0.15">0</text>
<line x1="655.5" y1="218.4" x2="655.5" y2="221.5" stroke="#222" stroke-width="0.75"/>
<text x="655.5" y="229.8" font-size="5.3" text-anchor="middle" fill="#000" stroke="#000" stroke-width="0.15">2</text>
<line x1="669.7" y1="218.4" x2="669.7" y2="221.5" stroke="#222" stroke-width="0.75"/>
<text x="669.7" y="229.8" font-size="5.3" text-anchor="middle" fill="#000" stroke="#000" stroke-width="0.15">4</text>
<text x="641.5" y="238.2" font-size="5.3" text-anchor="middle" fill="#000" stroke="#000" stroke-width="0.15">Row Z&#8722;Score</text>
<line x1="606.5" y1="413.8" x2="606.5" y2="421.8" stroke="#555" stroke-width="0.6"/>
<line x1="611.4" y1="421.8" x2="611.4" y2="424.4" stroke="#222" stroke-width="0.75"/>
<text x="611.4" y="432.6" font-size="5.3" text-anchor="middle" fill="#000" stroke="#000" stroke-width="0.15">&#8722;4</text>
<line x1="625.7" y1="421.8" x2="625.7" y2="424.4" stroke="#222" stroke-width="0.75"/>
<text x="625.7" y="432.6" font-size="5.3" text-anchor="middle" fill="#000" stroke="#000" stroke-width="0.15">&#8722;2</text>
<line x1="640" y1="421.8" x2="640" y2="424.4" stroke="#222" stroke-width="0.75"/>
<text x="640" y="432.6" font-size="5.3" text-anchor="middle" fill="#000" stroke="#000" stroke-width="0.15">0</text>
<line x1="654.2" y1="421.8" x2="654.2" y2="424.4" stroke="#222" stroke-width="0.75"/>
<text x="654.2" y="432.6" font-size="5.3" text-anchor="middle" fill="#000" stroke="#000" stroke-width="0.15">2</text>
<line x1="668.2" y1="421.8" x2="668.2" y2="424.4" stroke="#222" stroke-width="0.75"/>
<text x="668.2" y="432.6" font-size="5.3" text-anchor="middle" fill="#000" stroke="#000" stroke-width="0.15">4</text>
<text x="640.1" y="440.9" font-size="5.3" text-anchor="middle" fill="#000" stroke="#000" stroke-width="0.15">Row Z&#8722;Score</text>
</svg>
</body></html>
